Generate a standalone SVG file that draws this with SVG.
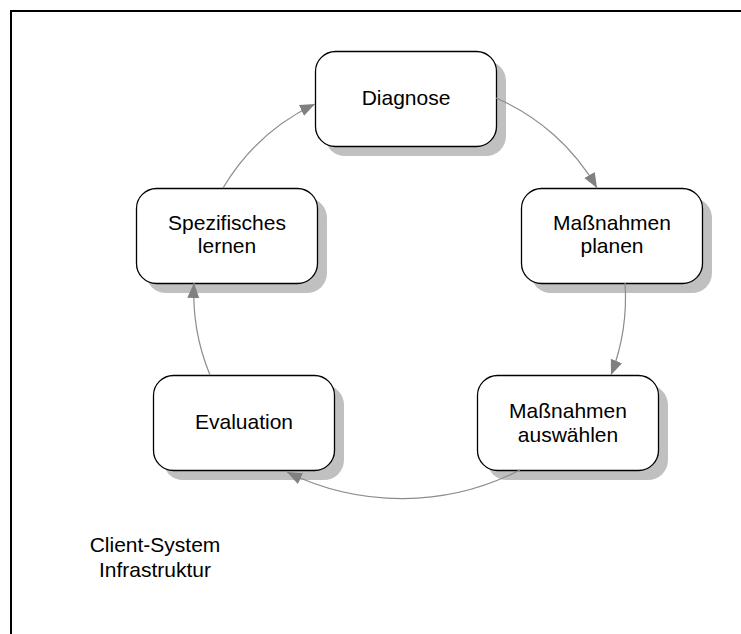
<svg xmlns="http://www.w3.org/2000/svg" width="741" height="634" viewBox="0 0 741 634">
<style>
.shadow{fill:#c0c0c0;stroke:none}
.box{fill:#fff;stroke:#000;stroke-width:1.3}
.lbl{font-family:"Liberation Sans",Arial,sans-serif;font-size:21px;fill:#000;text-anchor:middle}
.conn{fill:none;stroke:#8c8c8c;stroke-width:1.2}
</style>
<defs>
<marker id="arr" markerUnits="userSpaceOnUse" markerWidth="18" markerHeight="14" refX="15" refY="6" orient="auto">
<path d="M0,0 L15,6 L0,12 Z" fill="#808080"/>
</marker>
</defs>
<rect x="0" y="0" width="741" height="634" fill="#fff"/>
<rect x="11" y="11" width="740" height="640" fill="none" stroke="#000" stroke-width="2"/>
<g id="diagnose">
<rect class="shadow" x="325" y="61" width="181" height="95" rx="20"/>
<rect class="box" x="315.5" y="51.5" width="181" height="95" rx="20"/>
<text class="lbl" x="406" y="105">Diagnose</text>
</g>
<g id="planen">
<rect class="shadow" x="531" y="198" width="181" height="95" rx="20"/>
<rect class="box" x="521.5" y="188.5" width="181" height="95" rx="20"/>
<text class="lbl" x="612" y="230">Maßnahmen</text>
<text class="lbl" x="612" y="253">planen</text>
</g>
<g id="auswaehlen">
<rect class="shadow" x="487" y="385" width="181" height="95" rx="20"/>
<rect class="box" x="477.5" y="375.5" width="181" height="95" rx="20"/>
<text class="lbl" x="568" y="418">Maßnahmen</text>
<text class="lbl" x="568" y="442">auswählen</text>
</g>
<g id="evaluation">
<rect class="shadow" x="163" y="385" width="181" height="95" rx="20"/>
<rect class="box" x="153.5" y="375.5" width="181" height="95" rx="20"/>
<text class="lbl" x="244" y="429">Evaluation</text>
</g>
<g id="spezifisches">
<rect class="shadow" x="146" y="198" width="181" height="95" rx="20"/>
<rect class="box" x="136.5" y="188.5" width="181" height="95" rx="20"/>
<text class="lbl" x="227" y="230">Spezifisches</text>
<text class="lbl" x="227" y="253">lernen</text>
</g>
<g id="connectors">
<path class="conn" marker-end="url(#arr)" d="M223,188 A214,214 0 0 1 315,104"/>
<path class="conn" marker-end="url(#arr)" d="M496,98 A214,214 0 0 1 597,188"/>
<path class="conn" marker-end="url(#arr)" d="M625,283 A214,214 0 0 1 611,375"/>
<path class="conn" marker-end="url(#arr)" d="M520,470 A260,260 0 0 1 287,472"/>
<path class="conn" marker-end="url(#arr)" d="M210,375 A214,214 0 0 1 194,283"/>
</g>
<g id="client">
<text class="lbl" x="155" y="552">Client-System</text>
<text class="lbl" x="155" y="577">Infrastruktur</text>
</g>
</svg>
